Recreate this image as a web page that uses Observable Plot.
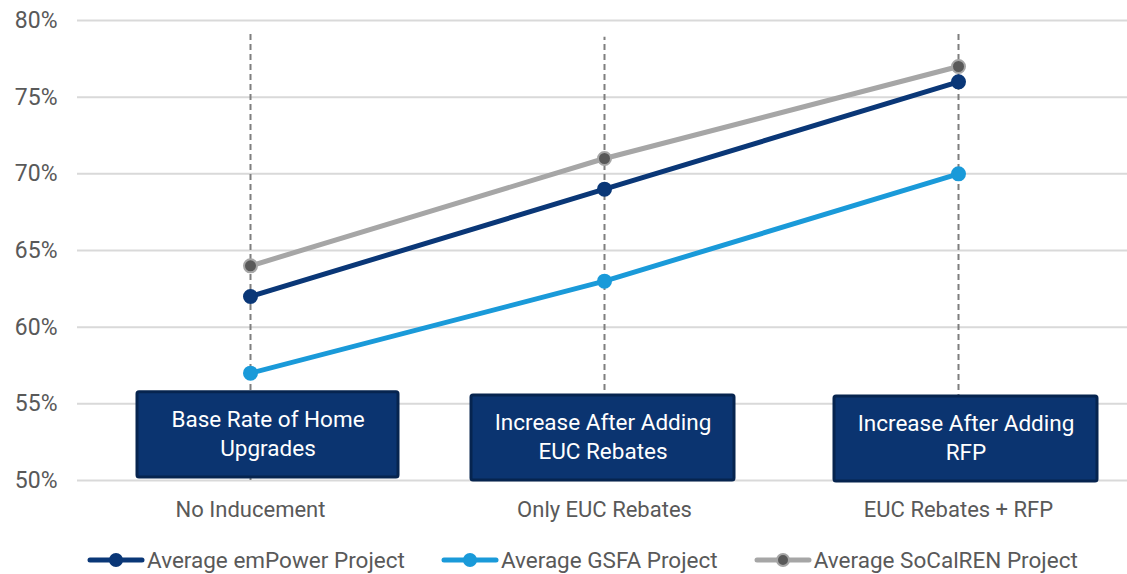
<!DOCTYPE html>
<html>
<head>
<meta charset="utf-8">
<script src="https://cdn.jsdelivr.net/npm/d3@7"></script>
<script src="https://cdn.jsdelivr.net/npm/@observablehq/plot@0.6"></script>
<style>
  html, body { margin: 0; padding: 0; background: #fff; }
  body { width: 1127px; height: 574px; overflow: hidden; font-family: Roboto, "Noto Sans", sans-serif; }
  #legend { display: flex; align-items: center; height: 30px; padding-left: 87px; font-size: 22.5px; color: #595959; margin-top: 11px; }
  .item { display: flex; align-items: center; margin-right: 36px; }
  .item svg { margin-right: 2px; }
</style>
</head>
<body>
<div id="chart"></div>
<div id="legend"></div>
<script>
const categories = ["No Inducement", "Only EUC Rebates", "EUC Rebates + RFP"];
const seriesNames = ["Average emPower Project", "Average GSFA Project", "Average SoCalREN Project"];
const empowerValues = [62, 69, 76];
const gsfaValues = [57, 63, 70];
const socalrenValues = [64, 71, 77];
const yTicks = [50, 55, 60, 65, 70, 75, 80];
const dashTops = [79.35, 78.9, 79.2];
const boxLabels = ["Base Rate of Home\nUpgrades", "Increase After Adding\nEUC Rebates", "Increase After Adding\nRFP"];

const colors = ["#0a3777", "#1a9ad9", "#a6a6a6"];
const markerFill = ["#0a3777", "#1a9ad9", "#595959"];

const seriesValues = [empowerValues, gsfaValues, socalrenValues];
const points = [];
seriesNames.forEach((s, si) => categories.forEach((c, ci) => points.push({series: s, cat: c, value: seriesValues[si][ci]})));
const dashes = categories.map((c, i) => ({cat: c, top: dashTops[i]}));

// box layout (annotation styling): insets within each band and vertical extent
const boxStyle = [
  {insetLeft: 64, insetRight: 29, y1: 50.2, y2: 55.75},
  {insetLeft: 44, insetRight: 47, y1: 50.0, y2: 55.55},
  {insetLeft: 53, insetRight: 38, y1: 49.93, y2: 55.48}
];

const boxMarks = categories.flatMap((c, i) => {
  const b = boxStyle[i];
  const d = [{cat: c, label: boxLabels[i], y1: b.y1, y2: b.y2, mid: (b.y1 + b.y2) / 2}];
  return [
    Plot.barY(d, {x: "cat", y1: "y1", y2: "y2", insetLeft: b.insetLeft, insetRight: b.insetRight,
      fill: "#0b3470", stroke: "#06244f", strokeWidth: 3, rx: 2}),
    Plot.text(d, {x: "cat", y: "mid", text: "label", dx: (b.insetLeft - b.insetRight) / 2, dy: -3,
      fill: "#ffffff", fontSize: 22.5, lineHeight: 1.3})
  ];
});

const chart = Plot.plot({
  width: 1127,
  height: 534,
  marginLeft: 77,
  marginRight: 0,
  marginTop: 20,
  marginBottom: 54,
  style: {fontFamily: "Roboto, 'Noto Sans', sans-serif", background: "#fff"},
  x: {type: "band", domain: categories, range: [73, 1135], padding: 0, label: null},
  y: {domain: [50, 80], label: null},
  marks: [
    Plot.gridY(yTicks, {stroke: "#d9d9d9", strokeOpacity: 1, strokeWidth: 2}),
    Plot.axisY(yTicks, {tickSize: 0, tickPadding: 20, fontSize: 23, fill: "#595959", tickFormat: d => d + "%", label: null}),
    Plot.axisX({tickSize: 0, tickPadding: 21, fontSize: 22, fill: "#595959", label: null}),
    Plot.ruleX(dashes, {x: "cat", y1: 50, y2: "top", stroke: "#7f7f7f", strokeWidth: 2, strokeDasharray: "6,4"}),
    Plot.line(points, {x: "cat", y: "value", z: "series", stroke: d => colors[seriesNames.indexOf(d.series)], strokeWidth: 5}),
    Plot.dot(points, {x: "cat", y: "value", r: 6.5,
      fill: d => markerFill[seriesNames.indexOf(d.series)],
      stroke: d => colors[seriesNames.indexOf(d.series)], strokeWidth: 2}),
    ...boxMarks
  ]
});
document.getElementById("chart").appendChild(chart);

const legend = document.getElementById("legend");
seriesNames.forEach((s, i) => {
  const item = document.createElement("div");
  item.className = "item";
  item.innerHTML = `<svg width="58" height="16"><line x1="3" y1="8" x2="55" y2="8" stroke="${colors[i]}" stroke-width="5" stroke-linecap="round"/><circle cx="29" cy="8" r="6" fill="${markerFill[i]}" stroke="${colors[i]}" stroke-width="2"/></svg><span>${s}</span>`;
  legend.appendChild(item);
});
</script>
</body>
</html>
